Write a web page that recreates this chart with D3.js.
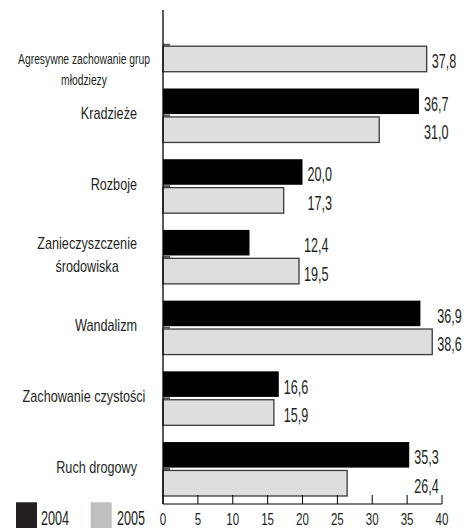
<!DOCTYPE html>
<html>
<head>
<meta charset="utf-8">
<script src="https://cdn.jsdelivr.net/npm/d3@7"></script>
<style>
  html, body { margin: 0; padding: 0; background: #fff; }
  svg { display: block; }
  text { font-family: "Liberation Sans", Arial, sans-serif; fill: #231f20; }
</style>
</head>
<body>
<script>
// ---- data ----
const categories = [
  "Agresywne zachowanie grup\nmłodziezy",
  "Kradzieże",
  "Rozboje",
  "Zanieczyszczenie\nśrodowiska",
  "Wandalizm",
  "Zachowanie czystości",
  "Ruch drogowy"
];
const seriesNames = ["2004", "2005"];
const values2004 = [null, 36.7, 20.0, 12.4, 36.9, 16.6, 35.3];
const values2005 = [37.8, 31.0, 17.3, 19.5, 38.6, 15.9, 26.4];
const xTickValues = [0, 5, 10, 15, 20, 25, 30, 35, 40];

// ---- layout ----
const W = 474, H = 528;
const x0 = 163, x1 = 442;
const bandTop = 17.8, bandBottom = 496;
const axisY = 504, axisTop = 10;
const colors = { "2004": "#000000", "2005": "#dedede" };
const legendColors = { "2004": "#231f20", "2005": "#bdbec0" };

function draw() {
  const svg = d3.select("body").append("svg").attr("width", W).attr("height", H);

  const x = d3.scaleLinear().domain([0, 40]).range([x0, x1]);
  const y = d3.scaleBand().domain(categories).range([bandTop, bandBottom])
    .paddingInner(0.237).paddingOuter(0).align(0);
  const ySub = d3.scaleBand().domain(seriesNames).range([0, y.bandwidth()]).paddingInner(0.1);

  const rows = categories.map((c, i) => ({
    cat: c,
    vals: { "2004": values2004[i], "2005": values2005[i] }
  }));

  const locale = d3.formatLocale({ decimal: ",", thousands: " ", grouping: [3], currency: ["", ""] });
  const fmt = locale.format(".1f");

  // ---- bars ----
  const groups = svg.append("g").selectAll("g").data(rows).join("g")
    .attr("transform", d => `translate(0,${y(d.cat)})`);

  groups.selectAll("rect")
    .data(d => seriesNames.filter(s => d.vals[s] != null).map(s => ({ s, v: d.vals[s] })))
    .join("rect")
    .attr("x", x(0))
    .attr("y", d => ySub(d.s))
    .attr("width", d => x(d.v) - x(0))
    .attr("height", ySub.bandwidth())
    .attr("fill", d => colors[d.s])
    .attr("stroke", d => d.s === "2005" ? "#3a3a3a" : "none")
    .attr("stroke-width", 1.3);

  // category ticks (small stubs inside the axis)
  svg.append("g").selectAll("line").data(categories).join("line")
    .attr("x1", x(0)).attr("x2", x(0) + 7)
    .attr("y1", d => y(d) + y.bandwidth() / 2)
    .attr("y2", d => y(d) + y.bandwidth() / 2)
    .attr("stroke", "#555").attr("stroke-width", 2);

  // value labels
  const valScale = 0.63, valSize = 20;
  groups.each(function (d) {
    const present = seriesNames.filter(s => d.vals[s] != null);
    const maxV = d3.max(present, s => d.vals[s]);
    const lx = x(maxV) + 5;
    d3.select(this).selectAll("text.val").data(present).join("text")
      .attr("class", "val")
      .attr("transform", s => `translate(${lx},${ySub(s) + ySub.bandwidth() / 2 + 9.5}) scale(${valScale},1)`)
      .attr("font-size", valSize)
      .text(s => fmt(d.vals[s]));
  });

  // ---- axes ----
  svg.append("line")
    .attr("x1", x(0)).attr("x2", x(0))
    .attr("y1", axisTop).attr("y2", axisY)
    .attr("stroke", "#000").attr("stroke-width", 1.3);

  const xAxis = svg.append("g").attr("transform", `translate(0,${axisY})`);
  xAxis.append("line").attr("x1", x(0)).attr("x2", x(40)).attr("y1", 0).attr("y2", 0)
    .attr("stroke", "#000").attr("stroke-width", 1.2);
  xAxis.selectAll("line.tick").data(xTickValues).join("line")
    .attr("class", "tick")
    .attr("x1", d => x(d)).attr("x2", d => x(d))
    .attr("y1", 0).attr("y2", -9)
    .attr("stroke", "#000").attr("stroke-width", 1);
  xAxis.selectAll("text").data(xTickValues).join("text")
    .attr("transform", d => `translate(${x(d)},20.5) scale(0.68,1)`)
    .attr("text-anchor", "middle")
    .attr("font-size", 17)
    .text(d => d);

  // ---- category labels ----
  const catSize = 16, catScaleX = 0.79, catMaxW = 132;
  const catG = svg.append("g");
  rows.forEach(d => {
    const lines = d.cat.split("\n");
    const g = catG.append("g");
    const fs = d.vals["2004"] == null ? 15 : catSize;
    const tmp = g.append("text").attr("font-size", fs);
    let wraw = 0;
    lines.forEach(l => { tmp.text(l); wraw = Math.max(wraw, tmp.node().getComputedTextLength()); });
    tmp.remove();
    let sx = catScaleX;
    if (wraw * sx > catMaxW) sx = catMaxW / wraw;
    const wmax = wraw * sx;
    const cx = Math.max(84, 137 - wmax / 2);
    const lh = fs * 1.4;
    const cap = fs * 0.72;
    const blockCenter = d.vals["2004"] == null
      ? y(d.cat) + ySub("2005") + ySub.bandwidth() / 2 + 10
      : y(d.cat) + y.bandwidth() / 2 - 2;
    lines.forEach((l, i) => {
      const by = blockCenter + (i - (lines.length - 1) / 2) * lh + cap / 2;
      g.append("text")
        .attr("transform", `translate(${cx},${by}) scale(${sx},1)`)
        .attr("text-anchor", "middle")
        .attr("font-size", fs)
        .text(l);
    });
  });

  // ---- legend ----
  const legendItems = [
    { s: "2004", rx: 16, tx: 41 },
    { s: "2005", rx: 90.7, tx: 117 }
  ];
  const lg = svg.append("g");
  lg.selectAll("rect").data(legendItems).join("rect")
    .attr("x", d => d.rx).attr("y", 502.3).attr("width", 21).attr("height", 26)
    .attr("fill", d => legendColors[d.s]);
  lg.selectAll("text").data(legendItems).join("text")
    .attr("transform", d => `translate(${d.tx},524.5) scale(0.6,1)`)
    .attr("font-size", 21)
    .text(d => d.s);
}

let drawn = false;
function go() { if (!drawn) { drawn = true; draw(); } }
if (document.fonts && document.fonts.load) {
  document.fonts.load('16px "Liberation Sans"').then(go, go);
  setTimeout(go, 300);
} else {
  go();
}
</script>
</body>
</html>
